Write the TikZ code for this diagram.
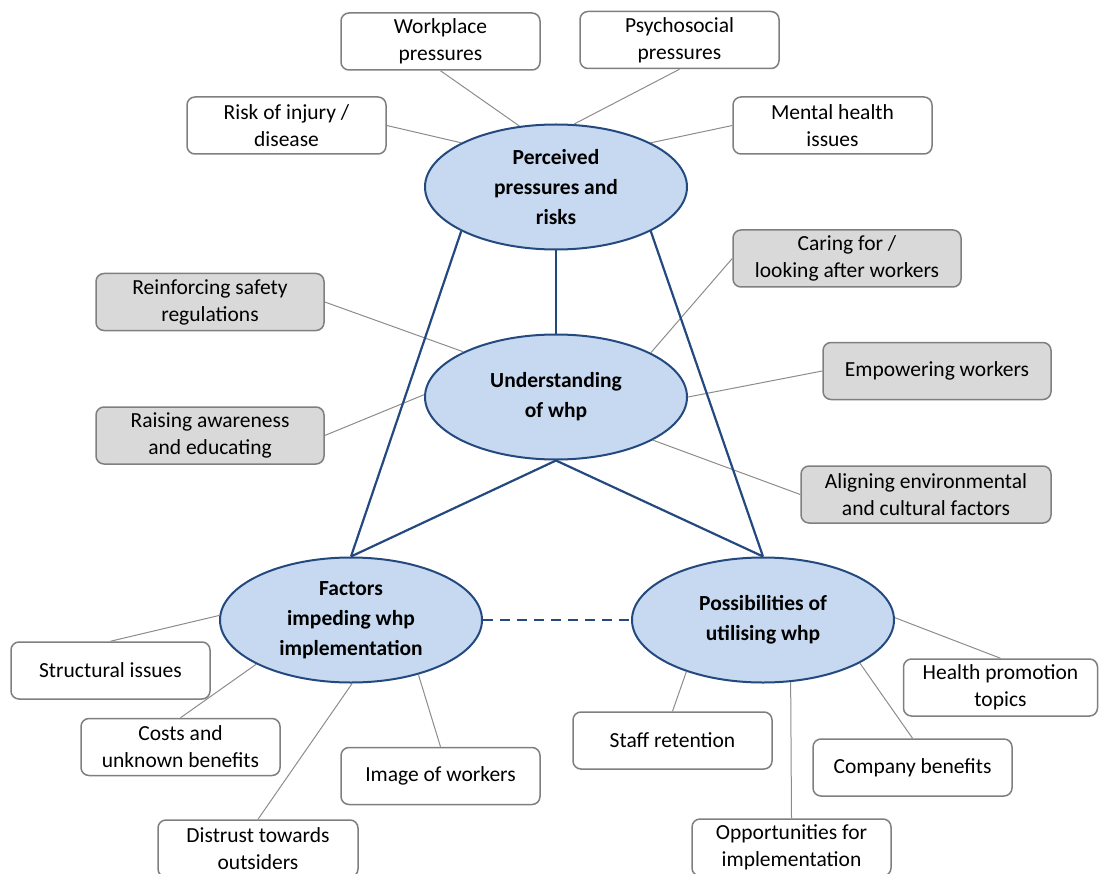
\documentclass[tikz,border=0pt]{standalone}
\usepackage{fontspec}
\setmainfont{Carlito}
\usetikzlibrary{shapes.geometric}
\definecolor{ovalfill}{HTML}{C6D9F0}
\definecolor{ovalline}{HTML}{24497F}
\definecolor{graybg}{HTML}{D9D9D9}
\definecolor{boxline}{HTML}{7F7F7F}
\definecolor{linkgray}{HTML}{8C8C8C}
\tikzset{
  wbox/.style={draw=boxline, line width=1.5pt, rounded corners=8pt, fill=white,
    minimum width=199pt, minimum height=57pt, inner sep=0pt, align=center,
    font=\fontsize{21.5}{27}\selectfont},
  gbox/.style={wbox, fill=graybg, minimum width=228pt},
  oval/.style={ellipse, draw=ovalline, line width=2pt, fill=ovalfill,
    minimum width=262pt, minimum height=125pt, inner sep=0pt, align=center,
    font=\fontsize{21.5}{30}\selectfont\bfseries},
  link/.style={draw=linkgray, line width=1pt},
  blueline/.style={draw=ovalline, line width=2.2pt},
}
\begin{document}
\begin{tikzpicture}[x=1pt,y=-1pt]
\useasboundingbox (0,0) rectangle (1099,874);
% ovals
\node[oval] (pp) at (556,187) {Perceived\\pressures and\\risks};
\node[oval] (uw) at (556,397) {Understanding\\of whp};
\node[oval] (fi) at (351,620) {Factors\\impeding whp\\implementation};
\node[oval] (pu) at (763,620) {Possibilities of\\utilising whp};
% top boxes
\node[wbox] (wp) at (440.5,41.5) {Workplace\\pressures};
\node[wbox] (ps) at (679.5,40) {Psychosocial\\pressures};
\node[wbox] (ri) at (286.5,125.5) {Risk of injury /\\disease};
\node[wbox] (mh) at (832.5,125.5) {Mental health\\issues};
% gray boxes
\node[gbox] (cf) at (847,258.5) {Caring for /\\looking after workers};
\node[gbox] (rs) at (210,302) {Reinforcing safety\\regulations};
\node[gbox] (ew) at (937,371) {Empowering workers};
\node[gbox] (ra) at (210,435.5) {Raising awareness\\and educating};
\node[gbox, minimum width=250pt] (al) at (926,494.5) {Aligning environmental\\and cultural factors};
% bottom left boxes
\node[wbox] (si) at (110.5,670.5) {Structural issues};
\node[wbox] (cu) at (180.5,747) {Costs and\\unknown benefits};
\node[wbox] (iw) at (440.5,776) {Image of workers};
\node[wbox, minimum width=200pt] (dt) at (258,848.5) {Distrust towards\\outsiders};
% bottom right boxes
\node[wbox] (sr) at (672.5,740.5) {Staff retention};
\node[wbox] (cb) at (912.5,767.5) {Company benefits};
\node[wbox, minimum width=194pt] (hp) at (1000.5,687.5) {Health promotion\\topics};
\node[wbox] (op) at (791.5,847.5) {Opportunities for\\implementation};
% thin links
\draw[link] (wp.south) -- (pp.121);
\draw[link] (ps.south) -- (pp.74);
\draw[link] (ri.east) -- (pp.155);
\draw[link] (mh.west) -- (pp.25);
\draw[link] (rs.east) -- (uw.154);
\draw[link] (cf.west) -- (uw.25);
\draw[link] (ra.east) -- (uw.179);
\draw[link] (ew.west) -- (uw.0);
\draw[link] (al.west) -- (uw.-24);
\draw[link] (si.north) -- (fi.178);
\draw[link] (cu.north) -- (fi.205);
\draw[link] (dt.north) -- (fi.-89);
\draw[link] (iw.north) -- (fi.-39);
\draw[link] (sr.north) -- (pu.214);
\draw[link] (op.north) -- (pu.-66);
\draw[link] (cb.north) -- (pu.-24);
\draw[link] (hp.north) -- (pu.1);
% blue links
\draw[blueline] (pp.south) -- (uw.north);
\draw[blueline] (pp.205) -- (fi.north);
\draw[blueline] (pp.-25) -- (pu.north);
\draw[blueline] (uw.south) -- (fi.north);
\draw[blueline] (uw.south) -- (pu.north);
\draw[blueline, dash pattern=on 10pt off 7pt] (fi.east) -- (pu.west);
\end{tikzpicture}
\end{document}
